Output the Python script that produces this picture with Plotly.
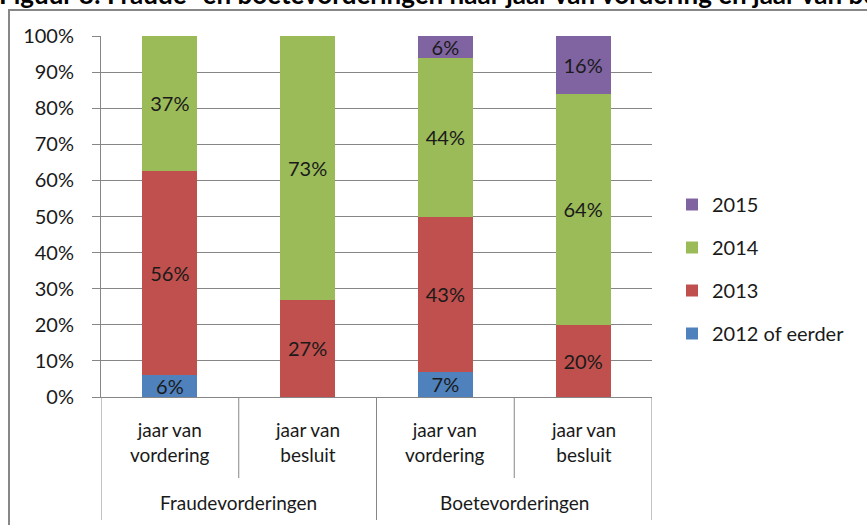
import plotly.graph_objects as go

# Data
groups = ["Fraudevorderingen", "Fraudevorderingen", "Boetevorderingen", "Boetevorderingen"]
subcats = ["jaar van<br>vordering", "jaar van<br>besluit", "jaar van<br>vordering", "jaar van<br>besluit"]
years = ["2012 of eerder", "2013", "2014", "2015"]
v2012 = [6, 0, 7, 0]
v2013 = [56, 27, 43, 20]
v2014 = [37, 73, 44, 64]
v2015 = [0, 0, 6, 16]
series = [v2012, v2013, v2014, v2015]
colors = ["#4F81BD", "#C0504D", "#9BBB59", "#8064A2"]

font = "Lato, 'Open Sans', sans-serif"
txt = "#1a1a1a"
xs = list(range(len(subcats)))

fig = go.Figure()
for k, (name, vals, col) in enumerate(zip(years, series, colors)):
    fig.add_trace(go.Bar(
        x=xs, y=vals, name=name, marker=dict(color=col, line=dict(width=0)),
        width=0.4, legendgroup=name, legendrank=len(years) - k,
        text=[f"{v}%" if v else "" for v in vals],
        textposition="inside", insidetextanchor="middle", constraintext="none",
        textfont=dict(color=txt, size=20, family=font),
    ))

W, H = 867, 525
L, R, T, B = 101, 652, 36, 397

def px_x(p):
    return (p - L) / (R - L)

def px_y(p):
    return (B - p) / (B - T)

# outer chart border
fig.add_shape(type="rect", xref="paper", yref="paper",
              x0=px_x(9), x1=px_x(880), y0=px_y(10), y1=px_y(540),
              line=dict(color="#878787", width=2))

# category dividers
n = len(subcats)
for i in range(n + 1):
    xb = i - 0.5
    is_group_edge = i == 0 or i == n or groups[i - 1] != groups[i]
    fig.add_shape(type="line", xref="x", yref="paper", x0=xb, x1=xb,
                  y0=0, y1=px_y(520 if is_group_edge else 478),
                  line=dict(color="#868686", width=1))

# sub-category labels
for i, lab in enumerate(subcats):
    fig.add_annotation(x=i, y=px_y(442), xref="x", yref="paper", text=lab,
                       showarrow=False, font=dict(size=19, family=font, color=txt),
                       yanchor="middle")

# group labels
seen = []
for g in groups:
    if g not in seen:
        seen.append(g)
for g in seen:
    idx = [i for i, gg in enumerate(groups) if gg == g]
    fig.add_annotation(x=sum(idx) / len(idx), y=px_y(502), xref="x", yref="paper",
                       text=g, showarrow=False,
                       font=dict(size=19, family=font, color=txt), yanchor="middle")

# title, cut off at the top of the picture
fig.add_annotation(x=px_x(-3), y=px_y(-6), xref="paper", yref="paper",
                   xanchor="left", yanchor="middle", showarrow=False,
                   text="<b>Figuur 8: Fraude- en boetevorderingen naar jaar van vordering en jaar van besluit</b>",
                   font=dict(size=26, family=font, color="black"))

fig.update_layout(
    barmode="stack", barnorm="percent",
    width=W, height=H,
    margin=dict(l=L, r=W - R, t=T, b=H - B),
    plot_bgcolor="white", paper_bgcolor="white",
    font=dict(family=font, size=18, color=txt),
    showlegend=True,
    legend=dict(traceorder="grouped", tracegroupgap=14,
                x=px_x(672), y=px_y(185), xanchor="left", yanchor="top",
                font=dict(size=20, family=font, color=txt), itemwidth=30),
)
fig.update_xaxes(range=[-0.5, n - 0.5], showticklabels=False, showgrid=False,
                 showline=True, linecolor="#868686", linewidth=1, ticks="", zeroline=False)
fig.update_yaxes(range=[0, 100], tickvals=list(range(0, 101, 10)),
                 ticktext=[f"{v}%" for v in range(0, 101, 10)],
                 showgrid=True, gridcolor="#868686", gridwidth=1,
                 showline=True, linecolor="#868686", ticks="outside", ticklen=8,
                 tickcolor="#868686", ticklabelstandoff=14, zeroline=False,
                 tickfont=dict(size=20, family=font, color=txt))

fig.write_html("out.html", config={"displayModeBar": False},
               post_script="document.body.style.margin='0';")
